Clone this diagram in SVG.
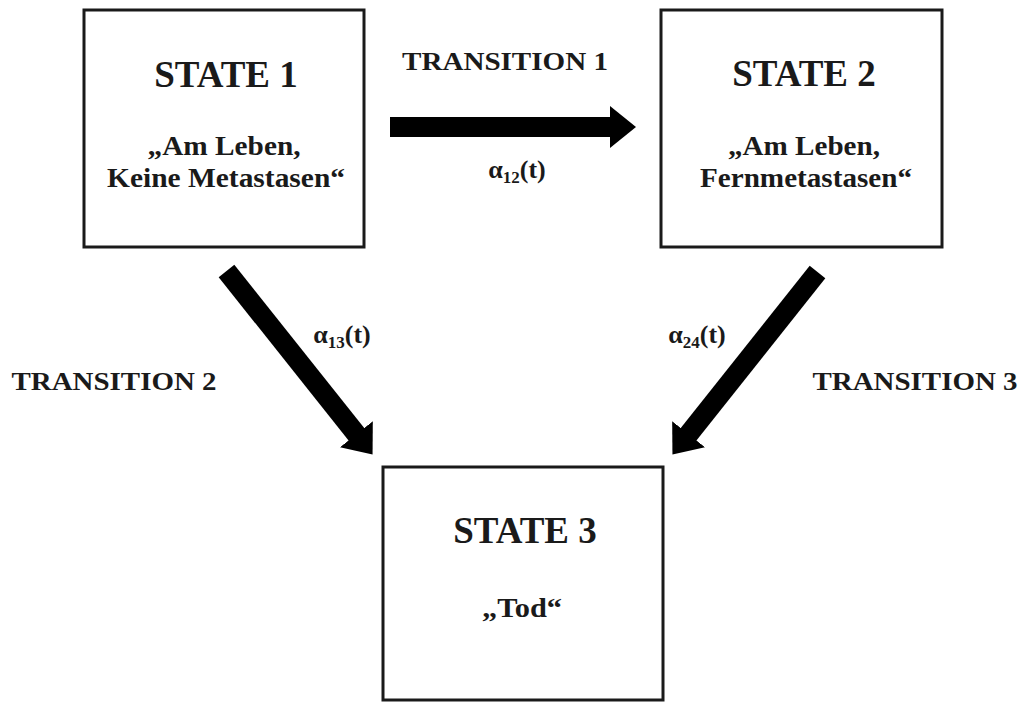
<svg xmlns="http://www.w3.org/2000/svg" width="1027" height="704" viewBox="0 0 1027 704">
  <style>
    .box { fill: #ffffff; stroke: #1a1a1a; stroke-width: 3; }
    text { font-family: "Liberation Serif", "Times New Roman", serif; font-weight: bold; fill: #1a1a1a; text-anchor: middle; }
    .title { font-size: 37px; }
    .sub { font-size: 27px; }
    .lbl { font-size: 25px; }
    .alpha { font-size: 26px; }
    .idx { font-size: 17px; }
    .arrow { stroke: #000000; stroke-width: 20; fill: none; marker-end: url(#head); }
  </style>
  <defs>
    <marker id="head" markerUnits="userSpaceOnUse" markerWidth="26" markerHeight="42" viewBox="0 0 26 42" refX="1" refY="21" orient="auto">
      <path d="M0,0 L26,21 L0,42 Z" fill="#000000"/>
    </marker>
  </defs>
  <rect width="1027" height="704" fill="#ffffff"/>

  <g id="connectors">
    <line class="arrow" x1="390" y1="127" x2="611" y2="127"/>
    <line class="arrow" x1="226.5" y1="271" x2="357" y2="435"/>
    <line class="arrow" x1="817.5" y1="272" x2="688" y2="435"/>
  </g>

  <g id="labels">
    <text class="lbl" x="505" y="70" textLength="206" lengthAdjust="spacingAndGlyphs">TRANSITION  1</text>
    <text class="lbl" x="114" y="390" textLength="205" lengthAdjust="spacingAndGlyphs">TRANSITION  2</text>
    <text class="lbl" x="915" y="390" textLength="205" lengthAdjust="spacingAndGlyphs">TRANSITION  3</text>
    <text class="alpha" x="517" y="178">α<tspan class="idx" dy="5">12</tspan><tspan dy="-5">(t)</tspan></text>
    <text class="alpha" x="342" y="343">α<tspan class="idx" dy="5">13</tspan><tspan dy="-5">(t)</tspan></text>
    <text class="alpha" x="697" y="343">α<tspan class="idx" dy="5">24</tspan><tspan dy="-5">(t)</tspan></text>
  </g>

  <g id="state1">
    <rect class="box" x="84" y="10" width="280" height="237"/>
    <text class="title" x="226" y="87">STATE 1</text>
    <text class="sub" x="224" y="155" textLength="153" lengthAdjust="spacingAndGlyphs">„Am Leben,</text>
    <text class="sub" x="226" y="187" textLength="238" lengthAdjust="spacingAndGlyphs">Keine Metastasen“</text>
  </g>

  <g id="state2">
    <rect class="box" x="661" y="10" width="281" height="237"/>
    <text class="title" x="804" y="86">STATE 2</text>
    <text class="sub" x="804" y="155" textLength="152" lengthAdjust="spacingAndGlyphs">„Am Leben,</text>
    <text class="sub" x="806" y="187" textLength="212" lengthAdjust="spacingAndGlyphs">Fernmetastasen“</text>
  </g>

  <g id="state3">
    <rect class="box" x="383" y="467" width="280" height="233"/>
    <text class="title" x="525" y="543">STATE 3</text>
    <text class="sub" x="522" y="617" textLength="80" lengthAdjust="spacingAndGlyphs">„Tod“</text>
  </g>
</svg>
